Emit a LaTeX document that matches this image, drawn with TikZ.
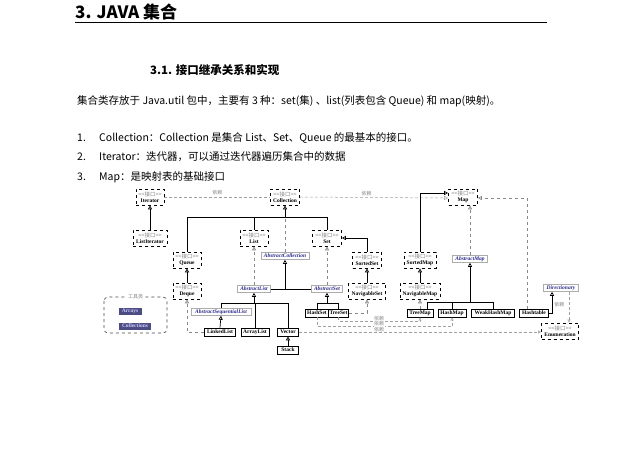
\documentclass[tikz,border=0pt]{standalone}
\usepackage{fontspec}
\setmainfont{Noto Sans CJK SC}
\newfontfamily\cjk{Noto Sans CJK SC}
\newfontfamily\dserif{Liberation Serif}
\usetikzlibrary{arrows.meta}
\definecolor{dgray}{HTML}{888888}
\definecolor{absblue}{HTML}{2A2A8A}
\begin{document}
\begin{tikzpicture}[x=1pt,y=-1pt,
  base/.style={inner sep=1pt, align=center, fill=white, font=\dserif\bfseries\fontsize{5.5}{6}\selectfont},
  iface/.style={base, draw, dashed, line width=0.7pt, minimum height=16pt},
  cls/.style={base, draw, line width=0.7pt, minimum height=8pt},
  abs/.style={base, draw=dgray!70, line width=0.5pt, text=absblue, font=\dserif\bfseries\itshape\fontsize{5.5}{6}\selectfont, minimum height=7pt},
  tool/.style={base, fill=blue!30!black!70, text=white!80!blue, minimum height=7pt},
  inh/.style={draw, line width=0.7pt, -{Triangle[open,length=4pt,width=4pt]}},
  real/.style={draw=dgray, dashed, line width=0.7pt, -{Triangle[open,length=4pt,width=4pt]}},
  dep/.style={draw=dgray!80, densely dashed, line width=0.5pt},
  lbl/.style={font=\cjk\fontsize{5}{5}\selectfont, text=dgray, inner sep=0.5pt}
]
\useasboundingbox (0,0) rectangle (640,475);
\fill[white] (0,0) rectangle (640,475);
\newcommand{\ifc}[1]{{\cjk\mdseries\color{dgray}<<接口>>}\\#1}
% document text
\node[anchor=west, inner sep=0, font=\bfseries\fontsize{17}{17}\selectfont] (title) at (75,12) {3. JAVA 集合};
\draw[line width=0.8pt] (75,22.7) -- (547,22.7);
\node[anchor=west, inner sep=0, font=\bfseries\fontsize{11.5}{12}\selectfont] (sec) at (150,70) {3.1. 接口继承关系和实现};
\node[anchor=west, inner sep=0, font=\fontsize{10.5}{11}\selectfont] (para) at (77,101) {集合类存放于 Java.util 包中，主要有 3 种：set(集)\ 、list(列表包含 Queue)\ 和 map(映射)。};
\node[anchor=west, inner sep=0, font=\fontsize{10.5}{11}\selectfont] (n1) at (77,138) {1.};
\node[anchor=west, inner sep=0, font=\fontsize{10.5}{11}\selectfont] (t1) at (99,138) {Collection：Collection 是集合 List、Set、Queue 的最基本的接口。};
\node[anchor=west, inner sep=0, font=\fontsize{10.5}{11}\selectfont] (n2) at (77,157) {2.};
\node[anchor=west, inner sep=0, font=\fontsize{10.5}{11}\selectfont] (t2) at (99,157) {Iterator：迭代器，可以通过迭代器遍历集合中的数据};
\node[anchor=west, inner sep=0, font=\fontsize{10.5}{11}\selectfont] (n3) at (77,177) {3.};
\node[anchor=west, inner sep=0, font=\fontsize{10.5}{11}\selectfont] (t3) at (99,177) {Map：是映射表的基础接口};
% tool box
\draw[dashed, rounded corners=4pt, line width=0.7pt, draw=black!70] (104,297) rectangle (167,333);
\node[lbl, fill=white, inner sep=2pt] (toollbl) at (135.5,297) {工具类};
\node[tool, minimum width=23pt] (arrays) at (130,311) {Arrays};
\node[tool, minimum width=32pt] (colls) at (135,326) {Collections};
% interfaces
\node[iface, minimum width=28pt] (iterator) at (150,197) {\ifc{Iterator}};
\node[iface, minimum width=29pt] (collection) at (285,197) {\ifc{Collection}};
\node[iface, minimum width=29pt] (map) at (463,197) {\ifc{Map}};
\node[iface, minimum width=34pt] (listit) at (150,238) {\ifc{ListIterator}};
\node[iface, minimum width=28pt] (list) at (254,238) {\ifc{List}};
\node[iface, minimum width=29pt] (set) at (327,238) {\ifc{Set}};
\node[iface, minimum width=28pt] (queue) at (187,260) {\ifc{Queue}};
\node[iface, minimum width=28pt] (deque) at (187,291) {\ifc{Deque}};
\node[iface, minimum width=29pt] (sortedset) at (367,260) {\ifc{SortedSet}};
\node[iface, minimum width=37pt] (navset) at (367,291) {\ifc{NavigableSet}};
\node[iface, minimum width=32pt] (sortedmap) at (420,260) {\ifc{SortedMap}};
\node[iface, minimum width=40pt] (navmap) at (420,291) {\ifc{NavigableMap}};
\node[iface, minimum width=37pt] (enum) at (560,331) {\ifc{Enumeration}};
% abstract
\node[abs, minimum width=48pt] (abscoll) at (285,256) {AbstractCollection};
\node[abs, minimum width=33pt] (abslist) at (254,289) {AbstractList};
\node[abs, minimum width=31pt] (absset) at (327,289) {AbstractSet};
\node[abs, minimum width=60pt] (asl) at (221,312) {AbstractSequentialList};
\node[abs, minimum width=35pt] (absmap) at (470,259) {AbstractMap};
\node[abs, minimum width=35pt] (dict) at (561,288) {Directionary};
% classes
\node[cls, minimum width=31pt] (linkedlist) at (220,332) {LinkedList};
\node[cls, minimum width=28pt] (arraylist) at (255,332) {ArrayList};
\node[cls, minimum width=21pt] (vector) at (288,332) {Vector};
\node[cls, minimum width=21pt] (stack) at (288,350) {Stack};
\node[cls, minimum width=23pt] (hashset) at (317,313) {HashSet};
\node[cls, minimum width=19pt] (treeset) at (338.5,313) {TreeSet};
\node[cls, minimum width=26pt] (treemap) at (420,313) {TreeMap};
\node[cls, minimum width=28pt] (hashmap) at (452,313) {HashMap};
\node[cls, minimum width=43pt] (weakhm) at (493,313) {WeakHashMap};
\node[cls, minimum width=29pt] (hashtable) at (534,313) {Hashtable};
% top dependencies
\draw[dep] (iterator.east) -- node[lbl, above=1pt] (d1) {依赖} (collection.west);
\draw[dep, -{Triangle[open,length=4pt,width=4pt]}] (collection.east) -- node[lbl, above=1pt, pos=0.45] (d2) {依赖} ([yshift=-1pt]map.west);
\draw[real] ([xshift=-7pt]hashtable.north) |- ([yshift=-1pt]map.east);
% collection hierarchy
\coordinate (cb) at (285,217);
\draw[inh] (cb) -- (collection.south);
\draw[line width=0.7pt] (queue.north) |- (cb);
\draw[line width=0.7pt] (set.north) |- (cb);
\draw[line width=0.7pt] (list.north) -- (list.north |- cb);
\draw[dgray, dashed, line width=0.7pt] (abscoll.north) -- (cb);
\draw[inh] (listit.north) -- (iterator.south);
\draw[inh] (deque.north) -- (queue.south);
\draw[real] (abslist.north) -- (list.south);
\draw[real] (absset.north) -- (set.south);
\draw[line width=0.7pt] (abslist.east) -- (absset.west);
\draw[inh] (abscoll.south |- abslist.east) -- (abscoll.south);
\coordinate (lb) at (254,303);
\draw[inh] (lb) -- (abslist.south);
\draw[line width=0.7pt] (asl.north) |- (lb);
\draw[line width=0.7pt] (vector.north) |- (lb);
\draw[line width=0.7pt] (arraylist.north) -- (arraylist.north |- lb);
\draw[inh] (linkedlist.north) -- (asl.south);
\draw[inh] (stack.north) -- (vector.south);
\draw[real] (linkedlist.west) -| (deque.south);
\coordinate (sb) at (327,303);
\draw[inh] (sb) -- (absset.south);
\draw[line width=0.7pt] (hashset.north) |- (sb);
\draw[line width=0.7pt] (treeset.north) |- (sb);
\draw[real] (treeset.east) -| (navset.south);
\draw[inh] (sortedset.north) |- (set.east);
\draw[inh] (navset.north) -- (sortedset.south);
% map hierarchy
\draw[inh] (sortedmap.north) |- ([yshift=4pt]map.west);
\draw[inh] (navmap.north) -- (sortedmap.south);
\draw[real] (absmap.north) -- (absmap.north |- map.south);
\coordinate (mb) at (470,302);
\draw[inh] (mb) -- (absmap.south);
\draw[line width=0.7pt] ([xshift=7pt]treemap.north) |- (mb);
\draw[line width=0.7pt] (hashmap.north) |- (mb);
\draw[line width=0.7pt] (weakhm.north) |- (mb);
\draw[real] (treemap.north) -- (navmap.south);
\draw[inh] (hashtable.east) -| ([xshift=-9pt]dict.south);
\draw[dep, -{Triangle[open,length=3pt,width=3pt]}] ([xshift=8pt]dict.south) -- node[lbl, left=4pt, pos=0.4] (d3) {依赖} ([xshift=8pt]dict.south |- enum.north);
% bottom dependencies
\coordinate (y1) at (0,321);
\coordinate (y2) at (0,326.5);
\coordinate (y3) at (0,332);
\draw[dep, -{Triangle[open,length=3pt,width=3pt]}] (treeset.south) |- (treemap.south |- y1) -- (treemap.south);
\draw[dep, -{Triangle[open,length=3pt,width=3pt]}] (hashset.south) |- (hashmap.south |- y2) -- (hashmap.south);
\draw[dep, -{Triangle[open,length=3pt,width=3pt]}] (vector.east) -- (enum.west |- y3);
\node[lbl, fill=white] (d4) at (379,318.5) {依赖};
\node[lbl, fill=white] (d5) at (379,324) {依赖};
\node[lbl, fill=white] (d6) at (379,329.5) {依赖};
\end{tikzpicture}
\end{document}
